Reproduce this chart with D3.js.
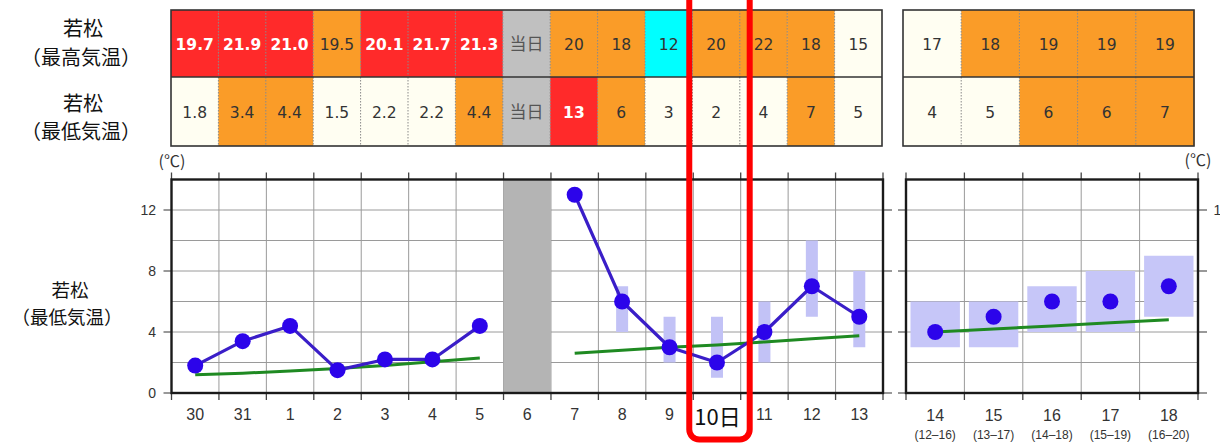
<!DOCTYPE html>
<html><head><meta charset="utf-8">
<script src="https://cdn.jsdelivr.net/npm/d3@7"></script>
<style>html,body{margin:0;padding:0;background:#fff;}svg{display:block;}</style>
</head><body>
<svg id="c" width="1220" height="446"></svg>
<script>
// ---- data ----
const days = ["30","31","1","2","3","4","5","6","7","8","9","10","11","12","13"];
const maxText = ["19.7","21.9","21.0","19.5","20.1","21.7","21.3","当日","20","18","12","20","22","18","15"];
const maxLevel = ["H2","H2","H2","H1","H2","H2","H2","T","H1","H1","L","H1","H1","H1","N"];
const minText = ["1.8","3.4","4.4","1.5","2.2","2.2","4.4","当日","13","6","3","2","4","7","5"];
const minLevel = ["N","H1","H1","N","N","N","H1","T","H2","H1","N","N","N","H1","N"];
const minValues = [1.8,3.4,4.4,1.5,2.2,2.2,4.4,null,13,6,3,2,4,7,5];
const rangeLow  = [null,null,null,null,null,null,null,null,null,4,2,1,2,5,3];
const rangeHigh = [null,null,null,null,null,null,null,null,null,7,5,5,6,10,8];
const normals = [1.2,1.3,1.45,1.6,1.8,2.05,2.3,null,2.6,2.8,3.0,3.15,3.35,3.55,3.75];
const todayDay = "6";
const highlightDay = "10";

const weekDays = ["14","15","16","17","18"];
const weekSpans = ["(12–16)","(13–17)","(14–18)","(15–19)","(16–20)"];
const weekMaxText = ["17","18","19","19","19"];
const weekMaxLevel = ["N","H1","H1","H1","H1"];
const weekMinText = ["4","5","6","6","7"];
const weekMinLevel = ["N","N","H1","H1","H1"];
const weekMin = [4,5,6,6,7];
const weekLow = [3,3,4,4,5];
const weekHigh = [6,6,7,8,9];
const weekNormal = [4.0,4.2,4.4,4.6,4.8];
const yTicks = [0,4,8,12];
const yTicksRightVisible = [12];
const yGrid = [2,4,6,8,10,12];

// ---- setup ----
const svg = d3.select("#c");
const levelColor = d3.scaleOrdinal().domain(["H2","H1","N","L","T"])
  .range(["#ff2a2a","#fa9c28","#fffef2","#00ffff","#c0c0c0"]);

const xT = d3.scaleBand().domain(days).range([171, 882]);
const xRT = d3.scaleBand().domain(weekDays).range([903, 1194]);
const xL = d3.scaleBand().domain(days).range([171.5, 883]);
const xR = d3.scaleBand().domain(weekDays).range([906, 1198]);
const y = d3.scaleLinear().domain([0,14]).range([393, 179.5]);

const rowTop = 10, rowMid = 77, rowBot = 146;

function table(x, keys, texts, levels, top, bot){
  const g = svg.append("g");
  const bw = x.bandwidth();
  g.selectAll("rect").data(keys).join("rect")
    .attr("x", d=>x(d)).attr("y", top).attr("width", bw+0.5).attr("height", bot-top)
    .attr("fill", (d,i)=>levelColor(levels[i]));
  g.selectAll("text").data(keys).join("text")
    .attr("x", d=>x(d)+bw/2).attr("y", (top+bot)/2+6)
    .attr("text-anchor","middle")
    .attr("font-family", (d,i)=>levels[i]==="T" ? "'Noto Sans CJK JP',sans-serif" : "'DejaVu Sans',Verdana,sans-serif")
    .attr("font-size", (d,i)=>levels[i]==="T" ? 17 : 15.5)
    .attr("font-weight", (d,i)=>levels[i]==="H2" ? "bold" : "normal")
    .attr("fill", (d,i)=>levels[i]==="H2" ? "#fff" : (levels[i]==="T" ? "#555" : "#333"))
    .text((d,i)=>texts[i]);
  g.selectAll("line").data(keys.slice(1)).join("line")
    .attr("x1", d=>x(d)).attr("x2", d=>x(d)).attr("y1", top).attr("y2", bot)
    .attr("stroke","#8a8a8a").attr("stroke-width",1).attr("stroke-dasharray","1.5,1.5");
}
table(xT, days, maxText, maxLevel, rowTop, rowMid);
table(xT, days, minText, minLevel, rowMid, rowBot);
table(xRT, weekDays, weekMaxText, weekMaxLevel, rowTop, rowMid);
table(xRT, weekDays, weekMinText, weekMinLevel, rowMid, rowBot);
[xT, xRT].forEach(x=>{
  const [a,b] = x.range();
  svg.append("rect").attr("x",a).attr("y",rowTop).attr("width",b-a).attr("height",rowBot-rowTop)
    .attr("fill","none").attr("stroke","#333").attr("stroke-width",1.6);
  svg.append("line").attr("x1",a).attr("x2",b).attr("y1",rowMid).attr("y2",rowMid)
    .attr("stroke","#333").attr("stroke-width",1.6);
});

// row labels
const lab = svg.append("g").attr("font-family","'Noto Sans CJK JP',sans-serif").attr("fill","#111")
  .attr("text-anchor","middle");
lab.append("text").attr("x",83).attr("y",36).attr("font-size",20).text("若松");
lab.append("text").attr("x",81).attr("y",65).attr("font-size",20).text("（最高気温）");
lab.append("text").attr("x",83).attr("y",111).attr("font-size",20).text("若松");
lab.append("text").attr("x",81).attr("y",139).attr("font-size",20).text("（最低気温）");
lab.append("text").attr("x",70).attr("y",297).attr("font-size",18.5).text("若松");
lab.append("text").attr("x",67).attr("y",324).attr("font-size",18.5).text("（最低気温）");

// ---- chart panels ----
function panel(x, keys){
  const g = svg.append("g");
  const [a,b] = x.range();
  const [y0,y1] = [y(0), y(14)];
  g.append("rect").attr("x",a).attr("y",y1).attr("width",b-a).attr("height",y0-y1).attr("fill","#fff");
  g.selectAll("line.h").data(yGrid).join("line").attr("class","h")
    .attr("x1",a).attr("x2",b).attr("y1",d=>y(d)).attr("y2",d=>y(d))
    .attr("stroke","#9a9a9a").attr("stroke-width",1);
  g.selectAll("line.v").data(keys.slice(1)).join("line").attr("class","v")
    .attr("x1",d=>x(d)).attr("x2",d=>x(d)).attr("y1",y1).attr("y2",y0)
    .attr("stroke","#9a9a9a").attr("stroke-width",1);
  const bounds = keys.map(d=>x(d)).concat([b]);
  g.selectAll("line.tt").data(bounds).join("line").attr("class","tt")
    .attr("x1",d=>d).attr("x2",d=>d).attr("y1",y1-7).attr("y2",y1)
    .attr("stroke","#444").attr("stroke-width",1.3);
  g.selectAll("line.tb").data(bounds).join("line").attr("class","tb")
    .attr("x1",d=>d).attr("x2",d=>d).attr("y1",y0).attr("y2",y0+7)
    .attr("stroke","#444").attr("stroke-width",1.3);
  g.selectAll("line.yl").data(yTicks).join("line").attr("class","yl")
    .attr("x1",a-8).attr("x2",a).attr("y1",d=>y(d)).attr("y2",d=>y(d))
    .attr("stroke","#555").attr("stroke-width",1.2);
  g.selectAll("line.yr").data(yTicks).join("line").attr("class","yr")
    .attr("x1",b).attr("x2",b+9).attr("y1",d=>y(d)).attr("y2",d=>y(d))
    .attr("stroke","#555").attr("stroke-width",1.2);
  return g;
}
const gL = panel(xL, days);
const gR = panel(xR, weekDays);

// today (grey) column
gL.append("rect").attr("x", xL(todayDay)).attr("y", y(14)).attr("width", xL.bandwidth()).attr("height", y(0)-y(14))
  .attr("fill","#b4b4b4");

// ranges
const rangeIdx = days.map((d,i)=>i).filter(i=>rangeLow[i]!=null);
gL.selectAll("rect.rg").data(rangeIdx).join("rect").attr("class","rg")
  .attr("x", i=>xL(days[i])+xL.bandwidth()/2-6).attr("width",12)
  .attr("y", i=>y(rangeHigh[i])).attr("height", i=>y(rangeLow[i])-y(rangeHigh[i]))
  .attr("fill","#c2c2f6");
gR.selectAll("rect.rg").data(weekDays).join("rect").attr("class","rg")
  .attr("x", d=>xR(d)+4.5).attr("width", xR.bandwidth()-9)
  .attr("y", (d,i)=>y(weekHigh[i])).attr("height", (d,i)=>y(weekLow[i])-y(weekHigh[i]))
  .attr("fill","#c6c6f8");

// normals
const cxL = i=>xL(days[i])+xL.bandwidth()/2;
const cxR = i=>xR(weekDays[i])+xR.bandwidth()/2;
const lnL = d3.line().defined(d=>d[1]!=null).x(d=>cxL(d[0])).y(d=>y(d[1]));
const lnR = d3.line().x(d=>cxR(d[0])).y(d=>y(d[1]));
gL.append("path").attr("d", lnL(normals.map((v,i)=>[i,v]))).attr("fill","none")
  .attr("stroke","#1f8a22").attr("stroke-width",3);
gR.append("path").attr("d", lnR(weekNormal.map((v,i)=>[i,v]))).attr("fill","none")
  .attr("stroke","#1f8a22").attr("stroke-width",3);

// observed/forecast min line
gL.append("path").attr("d", lnL(minValues.map((v,i)=>[i,v]))).attr("fill","none")
  .attr("stroke","#3a1ec8").attr("stroke-width",3.2).attr("stroke-linejoin","round");
gL.selectAll("circle").data(minValues.map((v,i)=>[i,v]).filter(d=>d[1]!=null)).join("circle")
  .attr("cx", d=>cxL(d[0])).attr("cy", d=>y(d[1])).attr("r",8).attr("fill","#2c04ea");
gR.selectAll("circle").data(weekMin.map((v,i)=>[i,v])).join("circle")
  .attr("cx", d=>cxR(d[0])).attr("cy", d=>y(d[1])).attr("r",8).attr("fill","#2c04ea");

// frames
[xL,xR].forEach(x=>{
  const [a,b]=x.range();
  svg.append("rect").attr("x",a).attr("y",y(14)).attr("width",b-a).attr("height",y(0)-y(14))
    .attr("fill","none").attr("stroke","#1a1a1a").attr("stroke-width",2.4);
});

// axis labels
const ax = svg.append("g").attr("font-family","'Liberation Sans',Arial,sans-serif").attr("fill","#333");
ax.selectAll("text.xl").data(days.filter(d=>d!==highlightDay)).join("text").attr("class","xl")
  .attr("x", d=>xL(d)+xL.bandwidth()/2).attr("y",420).attr("text-anchor","middle").attr("font-size",16)
  .text(d=>d);
ax.selectAll("text.xr").data(weekDays).join("text").attr("class","xr")
  .attr("x", d=>xR(d)+xR.bandwidth()/2).attr("y",421).attr("text-anchor","middle").attr("font-size",16)
  .text(d=>d);
ax.selectAll("text.xs").data(weekSpans).join("text").attr("class","xs")
  .attr("x", (d,i)=>xR(weekDays[i])+xR.bandwidth()/2).attr("y",439).attr("text-anchor","middle").attr("font-size",12)
  .text(d=>d);
ax.selectAll("text.yl").data(yTicks).join("text").attr("class","yl")
  .attr("x",156).attr("y",d=>y(d)+5).attr("text-anchor","end").attr("font-size",14).text(d=>d);
ax.selectAll("text.yr").data(yTicksRightVisible).join("text").attr("class","yr")
  .attr("x",1229).attr("y",d=>y(d)+5).attr("text-anchor","end").attr("font-size",14).text(d=>d);
ax.append("text").attr("x",172).attr("y",167).attr("text-anchor","middle").attr("font-size",16)
  .attr("font-family","'Noto Sans CJK JP',sans-serif").text("(℃)");
ax.append("text").attr("x",1198).attr("y",166).attr("text-anchor","middle").attr("font-size",16)
  .attr("font-family","'Noto Sans CJK JP',sans-serif").text("(℃)");

// highlight annotation
const hx = xL(highlightDay);
svg.append("text").attr("x", hx+xL.bandwidth()/2+0.5).attr("y",425).attr("text-anchor","middle")
  .attr("font-family","'Noto Sans CJK JP','Liberation Sans',sans-serif").attr("font-size",22).attr("fill","#111")
  .text(highlightDay+"日");
svg.append("rect").attr("x", hx-4).attr("y",-20).attr("width", xL.bandwidth()+13).attr("height", 459.5)
  .attr("rx",10).attr("fill","none").attr("stroke","#ff0000").attr("stroke-width",6);
</script>
</body></html>
